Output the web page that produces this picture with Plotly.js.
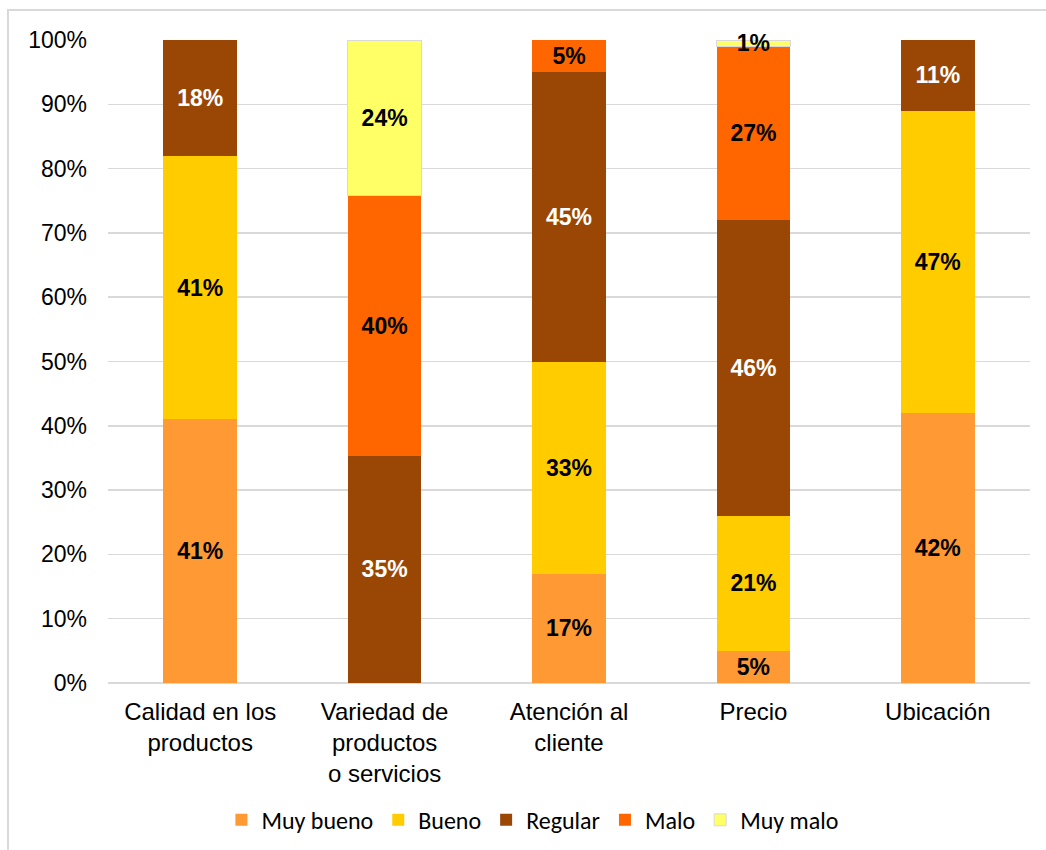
<!DOCTYPE html>
<html>
<head>
<meta charset="utf-8">
<script src="https://cdn.plot.ly/plotly-3.0.1.min.js"></script>
<style>
  html, body { margin: 0; padding: 0; background: #ffffff; }
  #wrap { position: relative; width: 1046px; height: 850px; overflow: hidden; }
  #frame { position: absolute; left: 7px; top: 9px; width: 1100px; height: 900px;
           border-left: 2px solid #d9d9d9; border-top: 2px solid #d9d9d9; pointer-events: none; }
  #chart { position: absolute; left: 0; top: 0; width: 1046px; height: 850px; }
</style>
</head>
<body>
<div id="wrap">
  <div id="chart"></div>
  <div id="frame"></div>
</div>
<script>
// Categories evaluated in the survey
const categories = [
  "Calidad en los<br>productos",
  "Variedad de<br>productos<br>o servicios",
  "Atención al<br>cliente",
  "Precio",
  "Ubicación"
];

// Share of answers per rating (%), null where the rating got no answers
const muyBueno = [41, null, 17, 5, 42];
const bueno    = [41, null, 33, 21, 47];
const regular  = [18, 35, 45, 46, 11];
const malo     = [null, 40, 5, 27, null];
const muyMalo  = [null, 24, null, 1, null];

const seriesNames  = ["Muy bueno", "Bueno", "Regular", "Malo", "Muy malo"];
const seriesValues = [muyBueno, bueno, regular, malo, muyMalo];
const seriesColors = ["#FF9933", "#FFCC00", "#9A4706", "#FF6600", "#FFFF66"];
const labelColors  = ["#000000", "#000000", "#ffffff", "#000000", "#000000"];

const traces = seriesNames.map((name, i) => ({
  type: "bar",
  name: name,
  x: categories,
  y: seriesValues[i],
  text: seriesValues[i].map(v => v == null ? "" : v + "%"),
  texttemplate: "%{text}",
  textposition: "inside",
  insidetextanchor: "middle",
  constraintext: "none",
  cliponaxis: false,
  textangle: 0,
  textfont: { family: "Liberation Sans, Arial, sans-serif", size: 23, weight: "bold", color: labelColors[i] },
  marker: { color: seriesColors[i], line: { width: i === 4 ? 1 : 0, color: "#d9d9d9" } },
  hoverinfo: "x+y+name"
}));

const layout = {
  width: 1046,
  height: 850,
  margin: { l: 108, r: 16, t: 40, b: 167 },
  paper_bgcolor: "rgba(0,0,0,0)",
  plot_bgcolor: "#ffffff",
  barmode: "stack",
  barnorm: "percent",
  bargap: 0.6,
  uniformtext: { mode: "show", minsize: 23 },
  font: { family: "Liberation Sans, Arial, sans-serif", size: 23, color: "#000000" },
  xaxis: {
    type: "category",
    showgrid: false,
    showline: false,
    zeroline: false,
    ticks: "",
    tickfont: { size: 24, color: "#000000" },
    ticklabelstandoff: 12,
    automargin: false
  },
  yaxis: {
    range: [0, 100],
    dtick: 10,
    tick0: 0,
    ticksuffix: "%",
    showgrid: true,
    gridcolor: "#d9d9d9",
    gridwidth: 1.5,
    zeroline: true,
    zerolinecolor: "#d9d9d9",
    zerolinewidth: 1.5,
    showline: false,
    ticks: "",
    tickfont: { size: 23, color: "#000000" },
    ticklabelstandoff: 20,
    automargin: false
  },
  legend: {
    orientation: "h",
    xref: "container",
    yref: "container",
    x: 0.509,
    xanchor: "center",
    y: 0.035,
    yanchor: "middle",
    traceorder: "normal",
    font: { family: "Carlito, Lato, sans-serif", size: 24, color: "#000000" },
    itemwidth: 30
  },
  showlegend: true
};

Plotly.newPlot("chart", traces, layout, { displayModeBar: false, staticPlot: true });
</script>
</body>
</html>
